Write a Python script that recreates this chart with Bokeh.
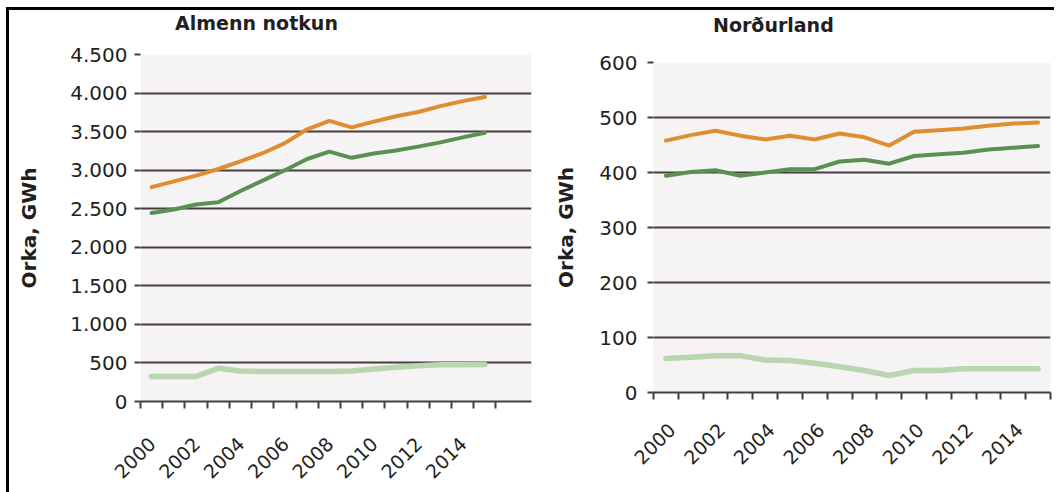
from bokeh.plotting import figure
from bokeh.layouts import row, column
from bokeh.models import FixedTicker, Range1d, Div
from bokeh.embed import file_html
from bokeh.resources import INLINE

# ---------------- data ----------------
years = list(range(2000, 2016))
label_years = [2000, 2002, 2004, 2006, 2008, 2010, 2012, 2014]

almenn_title = "Almenn notkun"
almenn_orange = [2780, 2855, 2930, 3015, 3115, 3220, 3350, 3530, 3640, 3555, 3630, 3700, 3755, 3830, 3895, 3950]
almenn_green = [2445, 2490, 2555, 2585, 2730, 2865, 3000, 3145, 3240, 3160, 3215, 3255, 3305, 3360, 3425, 3485]
almenn_light = [325, 325, 325, 430, 395, 390, 390, 390, 390, 395, 420, 445, 465, 475, 478, 480]
almenn_yticks = [0, 500, 1000, 1500, 2000, 2500, 3000, 3500, 4000, 4500]

nord_title = "Norðurland"
nord_orange = [458, 468, 476, 467, 460, 467, 460, 471, 464, 449, 474, 477, 480, 485, 489, 491]
nord_green = [394, 401, 404, 394, 400, 406, 406, 420, 423, 416, 430, 433, 436, 442, 445, 448]
nord_light = [62, 64, 67, 67, 59, 58, 53, 47, 40, 31, 40, 40, 43, 43, 43, 43]
nord_yticks = [0, 100, 200, 300, 400, 500, 600]

y_label = "Orka, GWh"

ORANGE = "#de8d30"
GREEN = "#5a9150"
LIGHT = "#b9d5b1"
GRID = "#463d3f"
BG = "#f5f3f4"
TEXT = "#231f20"
FONT = "DejaVu Sans"


def fmt(v):
    return f"{v:,}".replace(",", ".")


def title_div(text, width, height, pad_left, pad_top):
    html = (f'<div style="padding-left:{pad_left}px;padding-top:{pad_top}px;'
            f"font-family:'{FONT}';font-size:19px;font-weight:bold;color:{TEXT};"
            f'line-height:1;white-space:nowrap">{text}</div>')
    return Div(text=html, width=width, height=height, margin=0)


def make_chart(orange, green, light, yticks, width, height, x_max,
               mb_left, mb_right, tick_standoff, label_standoff,
               xlabel_standoff, label_shift):
    p = figure(width=width, height=height,
               x_range=Range1d(years[0] - 0.5, x_max),
               y_range=Range1d(yticks[0], yticks[-1]),
               output_backend="svg", toolbar_location=None,
               min_border_left=mb_left, min_border_right=mb_right,
               min_border_top=20, min_border_bottom=91)
    p.background_fill_color = BG
    p.border_fill_color = "white"
    p.outline_line_color = None

    # x axis: labels at even years, tick marks at year boundaries
    bounds = [y - 0.5 for y in years] + [years[-1] + 0.5]
    label_pos = [round(y + label_shift, 2) for y in label_years]
    p.xaxis.ticker = FixedTicker(ticks=label_pos, minor_ticks=bounds)
    p.xaxis.major_label_overrides = {lp: str(y) for lp, y in zip(label_pos, label_years)}
    p.xaxis.major_tick_out = 0
    p.xaxis.major_tick_in = 0
    p.xaxis.minor_tick_out = 7
    p.xaxis.minor_tick_in = 0
    p.xaxis.minor_tick_line_color = GRID
    p.xaxis.minor_tick_line_width = 2
    p.xaxis.axis_line_color = GRID
    p.xaxis.axis_line_width = 2
    p.xaxis.major_label_orientation = 0.785398
    p.xaxis.major_label_standoff = xlabel_standoff
    p.xaxis.major_label_text_font = FONT
    p.xaxis.major_label_text_font_size = "19px"
    p.xaxis.major_label_text_color = TEXT

    # y axis
    p.yaxis.ticker = FixedTicker(ticks=yticks, minor_ticks=[])
    p.yaxis.major_label_overrides = {t: fmt(t) for t in yticks}
    p.yaxis.axis_line_color = None
    p.yaxis.major_tick_out = 6
    p.yaxis.major_tick_in = 0
    p.yaxis.major_tick_line_color = GRID
    p.yaxis.major_tick_line_width = 2
    p.yaxis.minor_tick_line_color = None
    p.yaxis.major_label_standoff = tick_standoff
    p.yaxis.major_label_text_font = FONT
    p.yaxis.major_label_text_font_size = "20px"
    p.yaxis.major_label_text_color = TEXT
    p.yaxis.axis_label = y_label
    p.yaxis.axis_label_text_font = FONT
    p.yaxis.axis_label_text_font_size = "20px"
    p.yaxis.axis_label_text_font_style = "bold"
    p.yaxis.axis_label_text_color = TEXT
    p.yaxis.axis_label_standoff = label_standoff

    p.xgrid.visible = False
    p.ygrid.ticker = FixedTicker(ticks=yticks, minor_ticks=[])
    p.ygrid.grid_line_color = GRID
    p.ygrid.grid_line_width = 2

    p.line(years, light, line_color=LIGHT, line_width=5.5, line_join="round", line_cap="round")
    p.line(years, green, line_color=GREEN, line_width=4, line_join="round", line_cap="round")
    p.line(years, orange, line_color=ORANGE, line_width=4, line_join="round", line_cap="round")
    return p


p1 = make_chart(almenn_orange, almenn_green, almenn_light, almenn_yticks,
                width=539, height=458, x_max=2017.1, mb_left=131, mb_right=17,
                tick_standoff=7, label_standoff=26, xlabel_standoff=32, label_shift=0.02)
p2 = make_chart(nord_orange, nord_green, nord_light, nord_yticks,
                width=506, height=441, x_max=2015.5, mb_left=105, mb_right=4,
                tick_standoff=10, label_standoff=18, xlabel_standoff=27, label_shift=0.24)

left = column(title_div(almenn_title, 539, 24, 166, 4), p1)
right = column(title_div(nord_title, 506, 32, 165, 6), p2)

layout = row(left, right,
             styles={"border-left": "3px solid #000", "border-top": "3px solid #000",
                     "margin-left": "6px", "margin-top": "7px"})

open("out.html", "w").write(file_html(layout, INLINE))
